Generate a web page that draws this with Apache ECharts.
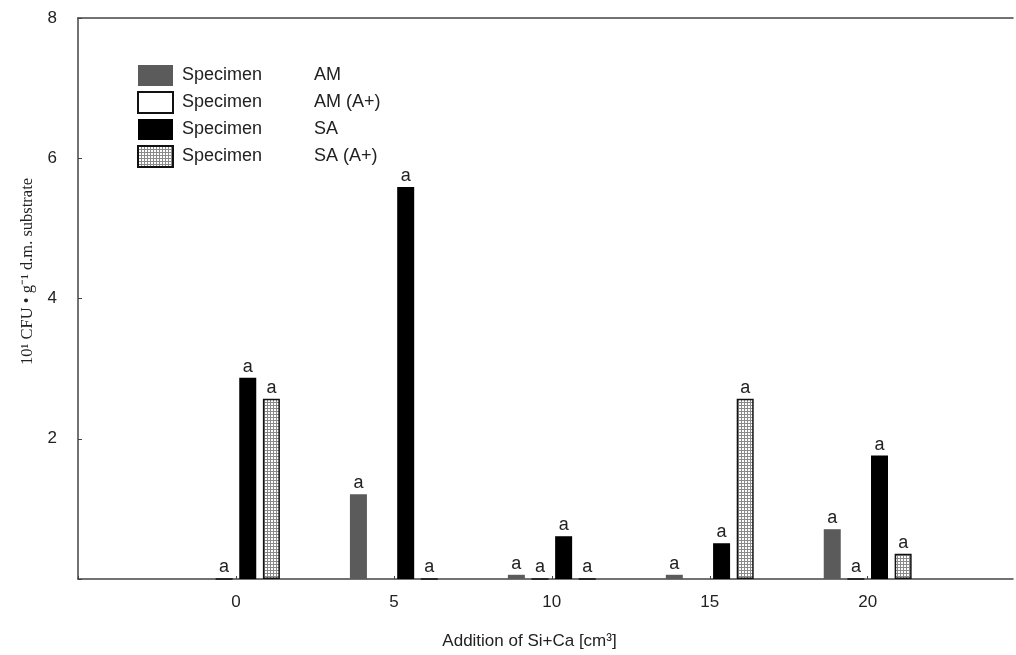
<!DOCTYPE html>
<html>
<head>
<meta charset="utf-8">
<script src="https://cdn.jsdelivr.net/npm/echarts@6/dist/echarts.min.js"></script>
<style>
html,body{margin:0;padding:0;background:#fff;}
#chart{width:1016px;height:655px;}
</style>
</head>
<body>
<div id="chart"></div>
<script>
// ---- data ----
var xValues = [0, 5, 10, 15, 20];
var seriesNames = ['AM', 'AM (A+)', 'SA', 'SA (A+)'];
var amValues = [null, 1.21, 0.06, 0.06, 0.71];
var amAValues = [0, null, 0, null, 0];
var saValues = [2.87, 5.59, 0.61, 0.51, 1.76];
var saAValues = [2.57, 0, 0, 2.57, 0.36];
var yTicks = [0, 2, 4, 6, 8];
var xRange = [-5, 24.6];
var xTitle = 'Addition of Si+Ca [cm\u00B3]';
var yTitle = '10\u00B9 CFU \u2022 g\u207B\u00B9 d.m. substrate';
var barLabel = 'a';

var SANS = 'Liberation Sans, Arial, sans-serif';

// checkered pattern
var pc = document.createElement('canvas');
pc.width = 3; pc.height = 3;
var ctx = pc.getContext('2d');
ctx.fillStyle = '#ffffff'; ctx.fillRect(0, 0, 3, 3);
ctx.fillStyle = '#8a8a8a';
ctx.fillRect(0, 0, 3, 1);
ctx.fillRect(0, 0, 1, 3);

function pairs(vals) {
  return xValues.map(function (x, i) { return [x, vals[i]]; });
}

var styles = [
  {color: '#5b5b5b', borderColor: '#5b5b5b', borderWidth: 0},
  {color: '#ffffff', borderColor: '#111', borderWidth: 1.5},
  {color: '#000000', borderColor: '#000', borderWidth: 0},
  {color: {image: pc, repeat: 'repeat'}, borderColor: '#111', borderWidth: 1.5}
];
var valueSets = [amValues, amAValues, saValues, saAValues];

var series = seriesNames.map(function (n, k) {
  return {
    name: n,
    type: 'bar',
    xAxisIndex: 0,
    data: pairs(valueSets[k]),
    barWidth: 17,
    barGap: '39%',
    itemStyle: styles[k],
    label: {
      show: true,
      position: 'top',
      distance: 2,
      formatter: function () { return barLabel; },
      color: '#222',
      fontSize: 18,
      fontFamily: SANS
    }
  };
});

function xLabel(v) {
  return (v < xValues[0] || v > xValues[xValues.length - 1]) ? '' : String(v);
}

var chart = echarts.init(document.getElementById('chart'), null, {renderer: 'canvas'});
chart.setOption({
  animation: false,
  backgroundColor: '#fff',
  grid: {left: 78, top: 18, right: 3, bottom: 75, show: false},
  legend: {
    orient: 'vertical',
    left: 137,
    top: 65,
    padding: 0,
    icon: 'rect',
    itemWidth: 35,
    itemHeight: 21,
    itemGap: 5,
    selectedMode: false,
    data: seriesNames,
    formatter: function (name) { return '{a|Specimen}{b|' + name + '}'; },
    textStyle: {
      color: '#222',
      fontSize: 18,
      fontFamily: SANS,
      rich: {
        a: {width: 132, padding: [0, 0, 0, 4], fontSize: 18, lineHeight: 21, color: '#222', fontFamily: SANS},
        b: {fontSize: 18, lineHeight: 21, color: '#222', fontFamily: SANS}
      }
    }
  },
  xAxis: [{
    type: 'value',
    min: xRange[0],
    max: xRange[1],
    interval: 5,
    name: xTitle,
    nameLocation: 'middle',
    nameGap: 54,
    nameTextStyle: {color: '#222', fontSize: 17, fontFamily: SANS, padding: [0, 32, 0, 0]},
    axisLine: {show: true, onZero: false, lineStyle: {color: '#444', width: 1.5}},
    axisTick: {show: true, inside: true, length: 3, lineStyle: {color: '#444'}},
    splitLine: {show: false},
    axisLabel: {color: '#222', fontSize: 17, margin: 15, fontFamily: SANS, formatter: xLabel, showMaxLabel: false}
  }, {
    type: 'value',
    position: 'top',
    min: xRange[0],
    max: xRange[1],
    interval: 5,
    axisLine: {show: true, onZero: false, lineStyle: {color: '#444', width: 1.5}},
    axisTick: {show: false},
    axisLabel: {show: false},
    splitLine: {show: false}
  }],
  yAxis: {
    type: 'value',
    min: yTicks[0],
    max: yTicks[yTicks.length - 1],
    interval: 2,
    name: yTitle,
    nameLocation: 'middle',
    nameGap: 25,
    nameRotate: 90,
    nameTextStyle: {color: '#222', fontSize: 16.5, fontFamily: 'Liberation Serif, Times New Roman, serif', padding: [0, 0, 0, 54]},
    axisLine: {show: true, onZero: false, lineStyle: {color: '#444', width: 1.5}},
    axisTick: {show: true, inside: true, length: 4, lineStyle: {color: '#444'}},
    splitLine: {show: false},
    axisLabel: {
      color: '#222', fontSize: 17, margin: 21,
      fontFamily: SANS,
      formatter: function (v) { return v === 0 ? '' : String(v); }
    }
  },
  series: series
});
</script>
</body>
</html>
